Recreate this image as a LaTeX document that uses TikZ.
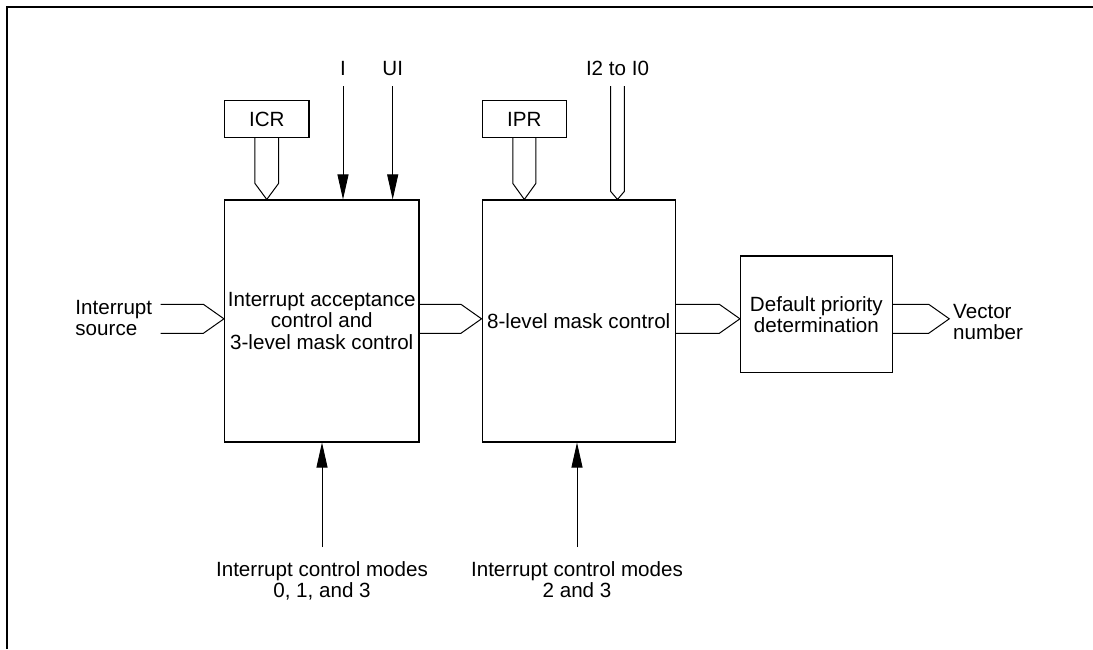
\documentclass[tikz,border=0pt]{standalone}
\usepackage{fontspec}
\setmainfont{Liberation Sans}
\usetikzlibrary{arrows.meta,positioning,calc}

\begin{document}
\begin{tikzpicture}[x=1pt,y=-1pt,line width=1.1pt,
  every node/.style={font=\fontsize{20.6}{21.5}\selectfont,align=center},
  blk/.style={draw,minimum height=242pt,minimum width=193.3pt},
  reg/.style={draw,minimum width=84.5pt,minimum height=36.7pt},
  bus/.style={line width=1pt,line join=miter},
  arr/.style={-{Triangle[length=25pt,width=11pt]},line width=0.9pt},
  toplab/.style={anchor=south,inner ysep=10pt},
  botlab/.style={anchor=north,inner ysep=14pt}]
\useasboundingbox (0,0) rectangle (1093,649);
\draw[line width=1.5pt] (7,649) -- (7,7) -- (1093,7);
% blocks
\node[blk] (b1) at (321.75,321) {Interrupt acceptance\\control and\\3-level mask control};
\node[blk,right=62pt of b1] (b2) {8-level mask control};
\node[draw,minimum width=151.8pt,minimum height=116.8pt,right=64pt of b2,yshift=6.6pt] (b3) {Default priority\\determination};
\node[reg,above right=61.3pt and 0pt of b1.north west] (icr) {ICR};
\node[reg,above right=61.3pt and 0pt of b2.north west] (ipr) {IPR};
% labels
\node[toplab] (li) at (343,86) {I};
\node[toplab] (lui) at (392.7,86) {UI};
\node[toplab] (l20) at (617.5,86) {I2 to I0};
\node[botlab] (m1) at (322,547) {Interrupt control modes\\0, 1, and 3};
\node[botlab] (m2) at (577,547) {Interrupt control modes\\2 and 3};
\node[anchor=east,align=left,inner xsep=8pt] (src) at (160.7,318) {Interrupt\\source};
\node[anchor=west,align=left] (vec) at (949.3,322) {Vector\\number};
\coordinate (bc) at (0,318.8);
% buses
\foreach \s/\t in {src.east/b1.west, b1.east/b2.west, b2.east/b3.west, b3.east/vec.west}
  \draw[bus] ($(\s |- bc)+(0,-14.5)$) -- ($(\t |- bc)+(-20.6,-14.5)$) -- (\t |- bc)
    -- ($(\t |- bc)+(-20.6,14.5)$) -- ($(\s |- bc)+(0,14.5)$);
\foreach \r/\b/\w/\h in {icr.south/b1.north/11.8/16, ipr.south/b2.north/11.5/16, l20.south/b2.north/6.8/8}
  \draw[bus] ($(\r)+(-\w,0)$) -- ($(\r |- \b)+(-\w,-\h)$) -- (\r |- \b)
    -- ($(\r |- \b)+(\w,-\h)$) -- ($(\r)+(\w,0)$);
% arrows
\draw[arr] (li.south) -- (li.south |- b1.north);
\draw[arr] (lui.south) -- (lui.south |- b1.north);
\draw[arr] (m1.north) -- (m1.north |- b1.south);
\draw[arr] (m2.north) -- (m2.north |- b2.south);
\end{tikzpicture}
\end{document}
